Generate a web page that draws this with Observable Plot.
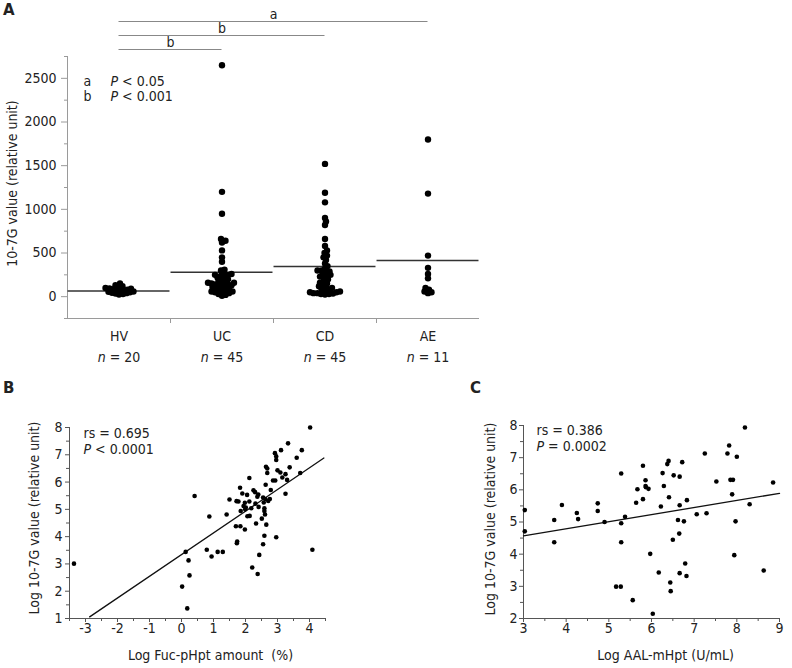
<!DOCTYPE html>
<html><head><meta charset="utf-8">
<script src="https://cdn.jsdelivr.net/npm/d3@7"></script>
<script src="https://cdn.jsdelivr.net/npm/@observablehq/plot@0.6"></script>
<style>
html,body{margin:0;padding:0;background:#fff;}
#fig{position:relative;width:792px;height:668px;overflow:hidden;background:#fff;}
.panel{position:absolute;}
.plab{position:absolute;font-family:'DejaVu Sans',sans-serif;font-weight:bold;font-size:15px;line-height:15px;color:#222;}
</style></head>
<body><div id="fig"></div>
<script>
const FONT = "'DejaVu Sans Condensed', 'DejaVu Sans', sans-serif";
const TEXT = "#222";

// ---------------- Panel A data ----------------
const groups = ["HV", "UC", "CD", "AE"];
const groupN = [20, 45, 45, 11];
const valuesHV = [150, 130, 120, 110, 100, 95, 90, 85, 80, 75, 70, 65, 60, 55, 50, 45, 40, 35, 30, 25];
const valuesUC = [2650, 1200, 950, 660, 640, 620, 530, 450, 400, 310, 300, 270, 260, 250, 250, 240, 230, 220, 200, 200,
  180, 170, 160, 160, 150, 150, 140, 140, 130, 130, 120, 110, 100, 100, 90, 80, 70, 60, 60, 50, 50, 40, 30, 20, 10];
const valuesCD = [1520, 1190, 1080, 900, 860, 820, 660, 580, 530, 500, 470, 450, 420, 380, 350, 320, 300, 300, 290, 280,
  260, 250, 240, 230, 220, 200, 180, 160, 150, 130, 120, 110, 100, 90, 80, 70, 60, 50, 50, 40, 40, 35, 30, 30, 25];
const valuesAE = [1800, 1180, 470, 330, 260, 210, 100, 80, 60, 50, 40];
const groupMeans = [65, 280, 345, 415];
const yTicksA = [0, 500, 1000, 1500, 2000, 2500];
const yMinorA = [-250, 250, 750, 1250, 1750, 2250, 2750];
const sigTo = [1, 2, 3];
const sigLabel = ["b", "b", "a"];
const keyLetters = ["a", "b"];
const keyText = ["P < 0.05", "P < 0.001"];

// ---------------- Panel B data ----------------
const bX = [-3.36, 4.02, 3.33, 3.11, 3.76, 2.92, 2.96, 2.96, 3.60, 2.64, 2.68, 3.38, 3.00, 2.68, 3.09, 3.25, 3.71, 3.15, 3.30, 2.12,
  2.86, 2.93, 2.63, 1.83, 2.79, 2.25, 2.30, 1.90, 2.05, 2.40, 3.25, 0.41, 2.37, 2.55, 2.62, 2.76, 1.50, 1.72, 1.78, 2.71,
  1.98, 2.12, 2.31, 2.57, 1.94, 1.85, 2.01, 2.18, 2.41, 2.59, 2.59, 1.99, 2.06, 2.13, 0.87, 1.41, 2.61, 2.51, 2.33, 2.65,
  1.70, 1.84, 1.98, 2.59, 2.96, 1.74, 1.73, 2.55, 4.09, 0.13, 0.79, 1.13, 1.29, 0.94, 2.43, 0.22, 2.21, 2.38, 0.25, 0.02, 0.18];
const bY = [3.01, 8.00, 7.42, 7.17, 7.17, 7.06, 6.94, 6.81, 6.89, 6.56, 6.50, 6.54, 6.43, 6.33, 6.35, 6.29, 6.33, 6.17, 6.08, 6.15,
  6.06, 6.06, 5.90, 5.79, 5.71, 5.70, 5.63, 5.58, 5.53, 5.54, 5.57, 5.49, 5.46, 5.43, 5.38, 5.38, 5.36, 5.30, 5.29, 5.31,
  5.24, 5.29, 5.21, 5.25, 5.12, 4.94, 5.07, 5.04, 5.09, 5.04, 4.94, 5.00, 4.75, 4.76, 4.74, 4.81, 4.81, 4.66, 4.48, 4.44,
  4.38, 4.38, 4.26, 4.03, 3.98, 3.82, 3.76, 3.72, 3.52, 3.44, 3.52, 3.44, 3.44, 3.27, 3.33, 3.13, 2.87, 2.63, 2.58, 2.17, 1.37];
const fitBx = [-2.87, 4.45];
const fitBy = [1.06, 6.88];
const xTicksB = [-3, -2, -1, 0, 1, 2, 3, 4];
const xMinorB = [-3.5, -2.5, -1.5, -0.5, 0.5, 1.5, 2.5, 3.5, 4.5];
const yTicksB = [1, 2, 3, 4, 5, 6, 7, 8];
const yMinorB = [1.5, 2.5, 3.5, 4.5, 5.5, 6.5, 7.5];

// ---------------- Panel C data ----------------
const cX = [3.03, 3.03, 3.72, 3.72, 3.90, 4.25, 4.28, 4.74, 4.74, 4.90, 5.29, 5.29, 5.29, 5.38, 5.17, 5.28, 5.56, 5.64, 5.67, 5.80,
  5.80, 5.86, 5.86, 5.87, 5.93, 5.97, 6.03, 6.17, 6.22, 6.26, 6.29, 6.37, 6.40, 6.41, 6.44, 6.45, 6.50, 6.52, 6.62, 6.65,
  6.66, 6.66, 6.66, 6.72, 6.76, 6.79, 6.82, 6.83, 7.06, 7.25, 7.29, 7.52, 7.78, 7.82, 7.85, 7.91, 7.89, 7.94, 7.97, 8.00,
  8.19, 8.30, 8.63, 8.85];
const cY = [5.37, 4.71, 5.06, 4.37, 5.53, 5.28, 5.09, 5.58, 5.34, 5.00, 6.51, 4.96, 4.37, 5.16, 2.99, 2.99, 2.57, 5.60, 6.02, 6.75,
  5.71, 6.30, 6.12, 6.08, 6.03, 4.01, 2.15, 3.43, 5.48, 6.52, 6.12, 6.80, 6.90, 5.77, 3.12, 2.85, 4.45, 6.45, 5.06, 4.64,
  3.41, 6.41, 5.52, 6.86, 5.02, 3.71, 3.32, 5.68, 5.24, 7.13, 5.27, 6.26, 7.13, 7.38, 6.31, 6.31, 5.86, 3.97, 5.02, 7.03,
  7.94, 5.55, 3.49, 6.23];
const fitCx = [3.0, 9.0];
const fitCy = [4.57, 5.89];
const xTicksC = [3, 4, 5, 6, 7, 8, 9];
const xMinorC = [3.5, 4.5, 5.5, 6.5, 7.5, 8.5];
const yTicksC = [2, 3, 4, 5, 6, 7, 8];
const yMinorC = [2.5, 3.5, 4.5, 5.5, 6.5, 7.5];

// ---------------- helpers ----------------
function italicize(svg) {
  svg.querySelectorAll("text").forEach(t => {
    if (t.children.length) return;
    const m = /^([nP])( [<=] .*)$/.exec(t.textContent);
    if (!m) return;
    t.textContent = "";
    const it = document.createElementNS("http://www.w3.org/2000/svg", "tspan");
    it.setAttribute("font-style", "italic");
    it.textContent = m[1];
    t.appendChild(it);
    t.appendChild(document.createTextNode(m[2]));
  });
  return svg;
}
const fig = document.getElementById("fig");
function place(el, left, top) {
  const d = document.createElement("div");
  d.className = "panel";
  d.style.left = left + "px"; d.style.top = top + "px";
  d.appendChild(el); fig.appendChild(d);
}
function label(t, left, top) {
  const d = document.createElement("div");
  d.className = "plab"; d.textContent = t;
  d.style.left = left + "px"; d.style.top = top + "px";
  fig.appendChild(d);
}
const baseStyle = {fontFamily: FONT, fontSize: "14px", color: TEXT, background: "transparent", overflow: "visible"};

// ---------------- Panel A ----------------
const LA = {width: 490, height: 370, mt: 56, mb: 52, ml: 67, mr: 11, yDomain: [-250, 2750]};
const kx = (LA.width - LA.ml - LA.mr) / groups.length;
const ky = (LA.height - LA.mt - LA.mb) / (LA.yDomain[1] - LA.yDomain[0]);

function swarmOffsets(values, minDist) {
  const order = values.map((_, i) => i).sort((a, b) => values[a] - values[b]);
  const placed = [];
  const out = new Array(values.length).fill(0);
  for (const i of order) {
    const py = values[i] * ky;
    for (let k = 0; k < 600; k++) {
      const c = k === 0 ? 0 : (k % 2 ? (k + 1) / 2 : -k / 2) * 0.5;
      if (placed.every(p => (p[0] - c) ** 2 + (p[1] - py) ** 2 >= minDist * minDist)) {
        out[i] = c; placed.push([c, py]); break;
      }
    }
  }
  return out;
}
const groupValues = [valuesHV, valuesUC, valuesCD, valuesAE];
const pointsA = groupValues.flatMap((vals, g) => {
  const off = swarmOffsets(vals, 3.6);
  return vals.map((v, i) => ({g, v, x: g + 0.5 + off[i] / kx}));
});
const sig = sigTo.map((to, k) => ({from: 0, to, label: sigLabel[k], y: LA.yDomain[1] + (7 + 14 * k) / ky}));
const AX_A = "#9a9a9a";

const plotA = Plot.plot({
  width: LA.width, height: LA.height,
  marginTop: LA.mt, marginBottom: LA.mb, marginLeft: LA.ml, marginRight: LA.mr,
  style: baseStyle,
  x: {domain: [0, groups.length]},
  y: {domain: LA.yDomain},
  marks: [
    Plot.ruleX([0], {stroke: AX_A}),
    Plot.ruleY([LA.yDomain[0]], {stroke: AX_A}),
    Plot.axisY({ticks: yTicksA, tickSize: 6, tickPadding: 5, tickFormat: d => String(d), label: null, stroke: AX_A, fill: TEXT}),
    Plot.axisY({ticks: yMinorA, tickSize: 3, tickFormat: () => "", label: null, stroke: AX_A}),
    Plot.axisX({ticks: [1, 2, 3], tickSize: 5, tickFormat: () => "", label: null, stroke: AX_A}),
    Plot.text(groups, {x: (d, i) => i + 0.5, frameAnchor: "bottom", lineAnchor: "middle", dy: 18, text: d => d, fill: TEXT}),
    Plot.text(groupN, {x: (d, i) => i + 0.5, frameAnchor: "bottom", lineAnchor: "middle", dy: 39, text: d => "n = " + d, fill: TEXT}),
    Plot.text(["10-7G value (relative unit)"], {frameAnchor: "left", textAnchor: "middle", lineAnchor: "middle", rotate: -90, dx: -55, dy: -4, text: d => d, fill: TEXT}),
    Plot.ruleY(groupMeans, {x1: (d, i) => i + 0.005, x2: (d, i) => i + 0.995, y: d => d, stroke: "#333", strokeWidth: 1.5}),
    Plot.dot(pointsA, {x: "x", y: "v", r: 3.2, fill: "#000", stroke: "none"}),
    Plot.ruleY(sig, {x1: d => d.from + 0.5, x2: d => d.to + 0.5, y: "y", stroke: "#888"}),
    Plot.text(sig, {x: d => (d.from + d.to) / 2 + 0.5, y: "y", dy: -7, lineAnchor: "middle", text: "label", fill: TEXT}),
    ...keyLetters.flatMap((k, i) => [
      Plot.text([k], {frameAnchor: "top-left", dx: 16, dy: 25 + 15 * i, textAnchor: "start", lineAnchor: "middle", text: d => d, fill: TEXT}),
      Plot.text([keyText[i]], {frameAnchor: "top-left", dx: 43, dy: 25 + 15 * i, textAnchor: "start", lineAnchor: "middle", text: d => d, fill: TEXT})
    ])
  ]
});
place(italicize(plotA), 0, 0);

// ---------------- scatter panels ----------------
function scatter(o) {
  const AX = "#555";
  const pts = o.xs.map((x, i) => ({x, y: o.ys[i]}));
  const svg = Plot.plot({
    width: o.width, height: o.height,
    marginTop: o.mt, marginBottom: o.mb, marginLeft: o.ml, marginRight: o.mr,
    style: baseStyle,
    x: {domain: o.xDomain},
    y: {domain: o.yDomain},
    marks: [
      Plot.ruleX([o.xDomain[0]], {stroke: AX}),
      Plot.ruleY([o.yDomain[0]], {stroke: AX}),
      Plot.axisX({ticks: o.xTicks, tickSize: 4, tickPadding: 1, tickFormat: d => String(d), label: null, stroke: AX, fill: TEXT}),
      Plot.axisX({ticks: o.xMinor, tickSize: 3, tickFormat: () => "", label: null, stroke: AX}),
      Plot.axisY({ticks: o.yTicks, tickSize: 4, tickPadding: o.yPad, tickFormat: d => String(d), label: null, stroke: AX, fill: TEXT}),
      Plot.axisY({ticks: o.yMinor, tickSize: 3, tickFormat: () => "", label: null, stroke: AX}),
      Plot.line(o.fitX.map((x, i) => [x, o.fitY[i]]), {stroke: "#111", strokeWidth: 1.3}),
      Plot.dot(pts, {x: "x", y: "y", r: 2.3, fill: "#000", stroke: "none"}),
      Plot.text([o.stat1], {frameAnchor: "top-left", dx: o.statDx, dy: o.statDy, textAnchor: "start", lineAnchor: "middle", text: d => d, fill: TEXT}),
      Plot.text([o.stat2], {frameAnchor: "top-left", dx: o.statDx, dy: o.statDy + 16, textAnchor: "start", lineAnchor: "middle", text: d => d, fill: TEXT}),
      Plot.text([o.xLabel], {frameAnchor: "bottom", textAnchor: "middle", lineAnchor: "middle", dx: o.xLabDx, dy: 37, text: d => d, fill: TEXT}),
      Plot.text([o.yLabel], {frameAnchor: "left", textAnchor: "middle", lineAnchor: "middle", rotate: -90, dx: o.yLabDx, dy: o.yLabDy, text: d => d, fill: TEXT})
    ]
  });
  return italicize(svg);
}

place(scatter({
  width: 396, height: 298, mt: 57, mb: 50, ml: 69, mr: 71,
  xDomain: [-3.5, 4.5], yDomain: [1, 8],
  xTicks: xTicksB, xMinor: xMinorB, yTicks: yTicksB, yMinor: yMinorB, yPad: 3,
  xs: bX, ys: bY, fitX: fitBx, fitY: fitBy,
  stat1: "rs = 0.695", stat2: "P < 0.0001", statDx: 14, statDy: 6,
  xLabel: "Log Fuc-pHpt amount  (%)", xLabDx: 13,
  yLabel: "Log 10-7G value (relative unit)", yLabDx: -35, yLabDy: -5
}), 0, 370);

place(scatter({
  width: 396, height: 298, mt: 55, mb: 50, ml: 127, mr: 13,
  xDomain: [3, 9], yDomain: [2, 8],
  xTicks: xTicksC, xMinor: xMinorC, yTicks: yTicksC, yMinor: yMinorC, yPad: 2,
  xs: cX, ys: cY, fitX: fitCx, fitY: fitCy,
  stat1: "rs = 0.386", stat2: "P = 0.0002", statDx: 13, statDy: 5,
  xLabel: "Log AAL-mHpt (U/mL)", xLabDx: 14,
  yLabel: "Log 10-7G value (relative unit)", yLabDx: -33, yLabDy: -3
}), 396, 370);

label("A", 3, 3);
label("B", 3, 381);
label("C", 470, 381);
</script></body></html>
